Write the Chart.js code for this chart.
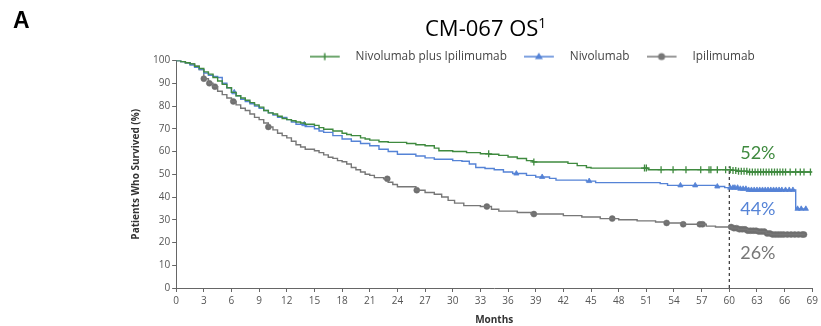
<!DOCTYPE html>
<html>
<head>
<meta charset="utf-8">
<script src="https://cdn.jsdelivr.net/npm/chart.js@4"></script>
<style>
  body { margin: 0; background: #fff; }
  #wrap { position: relative; width: 821px; height: 326px; }
  #chart { position: absolute; left: 0; top: 0; }
  .panel { position: absolute; left: 13px; top: 8.5px; font: bold 23px/23px 'Liberation Sans', sans-serif; color: #000; }
  .title { position: absolute; left: 425px; top: 15.5px; font: 22px/22px 'Open Sans', sans-serif; color: #000; white-space: nowrap; }
  .title sup { font-size: 14px; vertical-align: 8px; line-height: 0; }
</style>
</head>
<body>
<div id="wrap">
  <canvas id="chart" width="821" height="326"></canvas>
  <div class="panel">A</div>
  <div class="title">CM-067 OS<sup>1</sup></div>
</div>
<script>
// Kaplan-Meier curves (months, % surviving)
const comboMonths = [0, 0.5, 1, 1.5, 2, 2.5, 3, 3.5, 4, 4.5, 5, 5.5, 6, 6.5, 7, 7.5, 8, 8.5, 9, 9.5, 10, 10.5, 11, 11.5, 12, 12.5, 13, 13.5, 14, 15, 15.5, 16, 17, 18, 18.5, 19, 20, 20.5, 21, 22, 23, 25, 26, 27, 28, 28.5, 30, 31.5, 33, 34, 35, 36, 37, 38, 38.7, 42.5, 43.5, 44.5, 45, 50.8, 51.2, 60.3, 61, 62, 68.9]
const comboSurv = [100, 99.5, 99, 98.5, 97.5, 96.5, 95, 94, 92.5, 91, 89.5, 88, 86, 84.5, 83.5, 82.5, 81.5, 80.5, 79.5, 78, 77, 76.5, 75.5, 74.5, 74, 73.5, 73, 72.5, 72, 71.5, 70.5, 69.8, 69, 68, 67.5, 67, 66, 65.5, 65, 64.3, 64, 63.5, 63, 62.5, 61.5, 60.3, 60, 59.5, 59, 58.8, 58.3, 57.6, 56.9, 56, 55.4, 54.8, 53.8, 53, 52.7, 52.7, 52, 51.7, 51.3, 51, 51]

const nivoMonths = [0, 0.5, 1, 1.5, 2, 2.5, 3, 3.5, 4, 4.5, 5, 5.5, 6, 6.5, 7, 7.5, 8, 8.5, 9, 9.5, 10, 10.5, 11, 12, 12.5, 13, 14, 15, 15.5, 16, 17, 18, 19, 20, 21, 22, 23, 24, 26, 27, 28, 30, 31, 31.8, 32.5, 33.5, 34.5, 35.5, 36.5, 38, 39, 40.5, 41.2, 44.5, 45.5, 52.5, 53.3, 58.5, 59.5, 61, 62, 67.2, 68.4]
const nivoSurv = [100, 99.5, 99, 98, 97, 96, 94.5, 93.5, 93, 92.5, 90, 88, 86, 84.5, 83, 82, 81, 80, 79, 78, 77, 76, 75, 74, 73, 72, 71, 70, 69, 68.4, 67, 65.5, 64.5, 63.5, 62.5, 61, 60, 58.8, 58, 57.2, 56.6, 56, 55.7, 54.5, 53, 52.5, 52, 51, 50.3, 49.5, 48.8, 48.2, 47.4, 47, 46.3, 45.9, 45.1, 44.6, 44.1, 43.6, 43.1, 34.8, 34.8]

const ipiMonths = [0, 0.5, 1, 1.5, 2, 2.5, 3, 3.5, 4, 4.5, 5, 5.5, 6, 6.5, 7, 7.5, 8, 8.5, 9, 9.5, 10, 10.5, 11, 11.5, 12, 12.5, 13, 13.5, 14, 15, 15.5, 16, 16.5, 17, 17.5, 18, 18.5, 19, 19.5, 20, 20.5, 21, 21.5, 22.5, 23, 23.5, 24, 26, 27, 28, 28.8, 29.5, 30.2, 31.2, 33, 34.2, 35, 37, 38.5, 42, 44, 46, 48, 50, 52, 53.2, 55, 57.5, 58.5, 60.3, 61, 62, 63, 64, 64.5, 68.2]
const ipiSurv = [100, 99.5, 99, 98.5, 97.5, 96, 92, 90, 88.5, 86.5, 85, 83.5, 82, 80.5, 79, 78, 76.5, 75, 74, 72.5, 70.8, 69.5, 68, 67, 66, 64.5, 63, 62, 61, 60.3, 59.5, 58.5, 57.5, 57, 56, 55.5, 54.5, 53, 52, 51, 50, 49.5, 48.5, 48, 46.5, 45.5, 44.5, 43, 42, 41.2, 40, 38.5, 37.3, 36.2, 35.8, 34.6, 33.8, 33.2, 32.5, 31.8, 31.2, 30.5, 30, 29.5, 29, 28.6, 28, 27.2, 26.8, 26.3, 25.8, 25.2, 24.8, 24, 23.5, 23.5]

// censoring marks (months)
const comboCensored = [33.9, 38.8, 50.8, 51.0, 52.6, 53.9, 55.3, 56.9, 57.8, 58.0, 58.7, 59.6, 60.1, 60.4, 60.7, 61.0, 61.3, 61.6, 61.9, 62.2, 62.5, 62.8, 63.1, 63.4, 63.7, 64.0, 64.3, 64.6, 64.9, 65.2, 65.5, 65.8, 66.1, 66.6, 67.2, 67.7, 68.1, 68.8]
const nivoCensored = [6.3, 13.9, 36.9, 39.7, 44.8, 54.7, 56.3, 58.7, 60.1, 60.4, 60.6, 60.9, 61.2, 61.5, 61.8, 62.1, 62.4, 62.7, 63.0, 63.3, 63.6, 63.9, 64.2, 64.5, 64.8, 65.1, 65.4, 65.7, 66.1, 66.5, 66.9, 67.4, 67.8, 68.3]
const ipiCensored = [3.0, 3.6, 4.2, 6.2, 10.0, 22.9, 26.1, 33.7, 38.8, 47.3, 53.2, 55.0, 56.8, 57.1, 60.2, 60.5, 60.8, 61.1, 61.4, 61.7, 62.0, 62.3, 62.6, 62.9, 63.2, 63.5, 63.8, 64.1, 64.4, 64.7, 65.0, 65.3, 65.6, 65.9, 66.3, 66.7, 67.1, 67.5, 67.9, 68.1]

const seriesNames = ['Nivolumab plus Ipilimumab', 'Nivolumab', 'Ipilimumab']
const rateLabels = ['52%', '44%', '26%']
const landmarkMonth = 60
const xTicks = [0, 3, 6, 9, 12, 15, 18, 21, 24, 27, 30, 33, 36, 39, 42, 45, 48, 51, 54, 57, 60, 63, 66, 69]

const GREEN = '#3f8a3f'
const BLUE = '#5583d6'
const GRAY = '#777777'

function curve (months, surv) {
  return months.map((m, i) => ({ x: m, y: surv[i] }))
}

// survival value of a step curve at a given time
function survAt (months, surv, t) {
  let v = surv[0]
  for (let i = 0; i < months.length; i++) {
    if (months[i] <= t) v = surv[i]
  }
  return v
}

function marks (times, months, surv) {
  return times.map((t) => ({ x: t, y: survAt(months, surv, t) }))
}

// small picture for the legend: line with the marker in the middle
function legendIcon (color, style) {
  const c = document.createElement('canvas')
  c.width = 40
  c.height = 12
  const g = c.getContext('2d')
  g.strokeStyle = color
  g.fillStyle = color
  g.lineWidth = 1.5
  g.beginPath()
  g.moveTo(0, 6)
  g.lineTo(30, 6)
  g.stroke()
  if (style === 'cross') {
    g.beginPath()
    g.moveTo(15, 2.5)
    g.lineTo(15, 9.5)
    g.stroke()
  } else if (style === 'triangle') {
    g.beginPath()
    g.moveTo(15, 2)
    g.lineTo(19, 8.5)
    g.lineTo(11, 8.5)
    g.closePath()
    g.fill()
  } else {
    g.beginPath()
    g.arc(15, 6, 3.5, 0, Math.PI * 2)
    g.fill()
  }
  return c
}

const icons = [legendIcon(GREEN, 'cross'), legendIcon(BLUE, 'triangle'), legendIcon(GRAY, 'circle')]

function lineSet (label, data, color) {
  return {
    label: label,
    data: data,
    borderColor: color,
    backgroundColor: color,
    borderWidth: 1.4,
    stepped: true,
    pointRadius: 0,
    fill: false
  }
}

function markSet (data, color, style, radius, border) {
  return {
    label: '',
    data: data,
    showLine: false,
    pointStyle: style,
    pointRadius: radius,
    pointBorderWidth: border,
    borderColor: color,
    backgroundColor: color
  }
}

const legendShift = {
  id: 'legendShift',
  afterLayout (chart) {
    const l = chart.legend
    l.left += 38
    l.right += 38
    l.top += 12
    l.bottom += 12
  }
}

const rateText = {
  id: 'rateText',
  afterDatasetsDraw (chart) {
    const { ctx, scales } = chart
    const spots = [[63.1, 59.2, GREEN], [63.1, 34.8, BLUE], [63.1, 15.4, GRAY]]
    ctx.save()
    ctx.font = '18px Lato, sans-serif'
    ctx.textAlign = 'center'
    ctx.textBaseline = 'middle'
    rateLabels.forEach((txt, i) => {
      ctx.fillStyle = spots[i][2]
      ctx.fillText(txt, scales.x.getPixelForValue(spots[i][0]), scales.y.getPixelForValue(spots[i][1]))
    })
    ctx.restore()
  }
}

new Chart(document.getElementById('chart'), {
  type: 'line',
  data: {
    datasets: [
      lineSet(seriesNames[0], curve(comboMonths, comboSurv), GREEN),
      lineSet(seriesNames[1], curve(nivoMonths, nivoSurv), BLUE),
      lineSet(seriesNames[2], curve(ipiMonths, ipiSurv), GRAY),
      markSet(marks(comboCensored, comboMonths, comboSurv), GREEN, 'cross', 3.5, 1.3),
      markSet(marks(nivoCensored, nivoMonths, nivoSurv), BLUE, 'triangle', 3, 0.8),
      markSet(marks(ipiCensored, ipiMonths, ipiSurv), '#6f6f6f', 'circle', 3, 0.5),
      {
        label: '',
        data: [{ x: landmarkMonth, y: 0 }, { x: landmarkMonth, y: 53.5 }],
        borderColor: '#333',
        borderWidth: 1.2,
        borderDash: [3, 3],
        pointRadius: 0
      }
    ]
  },
  options: {
    responsive: false,
    animation: false,
    layout: { padding: { left: 130, right: 8, top: 21.7, bottom: 0 } },
    plugins: {
      tooltip: { enabled: false },
      legend: {
        fullSize: false,
        labels: {
          usePointStyle: true,
          pointStyleWidth: 40,
          padding: 17,
          color: '#444',
          font: { family: 'Open Sans', size: 11.8 },
          generateLabels: () => seriesNames.map((name, i) => ({
            text: name,
            pointStyle: icons[i],
            fillStyle: 'transparent',
            strokeStyle: 'transparent',
            lineWidth: 0,
            fontColor: '#444',
            datasetIndex: i,
            hidden: false
          }))
        }
      }
    },
    scales: {
      x: {
        type: 'linear',
        min: 0,
        max: 69,
        afterBuildTicks: (axis) => { axis.ticks = xTicks.map((v) => ({ value: v })) },
        grid: { display: true, drawOnChartArea: false, drawTicks: true, tickLength: 4, color: '#666' },
        border: { color: '#666', width: 1 },
        ticks: { color: '#555', padding: 3, font: { family: 'Open Sans', size: 10 } },
        title: {
          display: true,
          text: 'Months',
          color: '#333',
          padding: { top: 4, bottom: 0 },
          font: { family: 'Open Sans', size: 10, weight: 'bold' }
        }
      },
      y: {
        min: 0,
        max: 100,
        ticks: { stepSize: 10, color: '#555', padding: 2, font: { family: 'Open Sans', size: 10 } },
        grid: { display: true, drawOnChartArea: false, drawTicks: true, tickLength: 4, color: '#666' },
        border: { color: '#666', width: 1 },
        title: {
          display: true,
          text: 'Patients Who Survived (%)',
          color: '#333',
          padding: { top: 0, bottom: 9 },
          font: { family: 'Open Sans', size: 10, weight: 'bold' }
        }
      }
    }
  },
  plugins: [legendShift, rateText]
})
</script>
</body>
</html>
